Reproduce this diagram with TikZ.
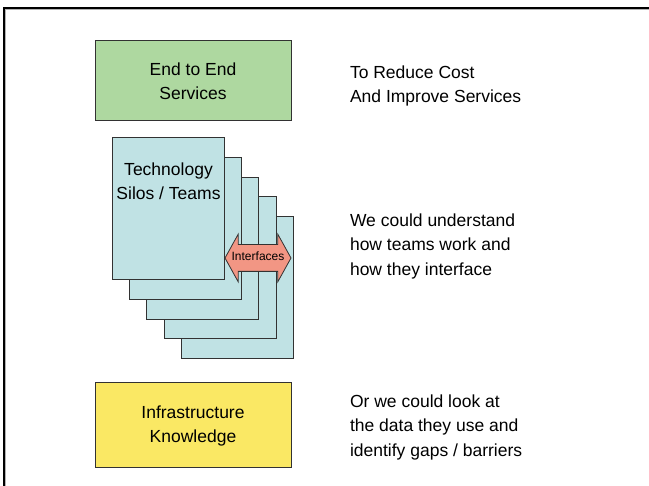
\documentclass[tikz,border=0pt]{standalone}
\usepackage{fontspec}
\setmainfont{Liberation Sans}
\usepackage{tikz}
\usetikzlibrary{positioning,shapes.arrows}

\definecolor{servgreen}{RGB}{174,216,160}
\definecolor{siloblue}{RGB}{192,226,228}
\definecolor{infoyellow}{RGB}{250,232,100}
\definecolor{ifsalmon}{RGB}{242,150,132}
\definecolor{edge}{RGB}{50,50,50}

\tikzset{
  box/.style={rectangle, draw=edge, line width=1pt, minimum width=196pt, align=center, font=\fontsize{17.5}{24}\selectfont},
  card/.style={rectangle, draw=edge, line width=1pt, fill=siloblue, minimum width=112pt, minimum height=142pt},
  note/.style={anchor=west, align=left, font=\fontsize{17.5}{24.5}\selectfont}
}

\begin{document}
\begin{tikzpicture}[x=1pt, y=-1pt]
\useasboundingbox (0,0) rectangle (649,486);
% outer frame
\draw [gray!60, line width=1pt] (5.5,487) -- (5.5,9.5) -- (650,9.5);
\draw [black, line width=1.2pt] (4,487) -- (4,8) -- (650,8);

\node [box, fill=servgreen, minimum height=80pt] (services) at (193,81) {End to End\\ Services};

% stack of silo cards, back to front
\foreach \i in {4,3,2,1,0}
  \node [card] (silo\i) at (168.5+17.2*\i, 209+19.6*\i) {};
\node [anchor=north, align=center, font=\fontsize{17.5}{24}\selectfont] (silotext) at ([yshift=-22pt]silo0.north) {Technology\\ Silos / Teams};

\node [double arrow, draw=edge, line width=0.8pt, fill=ifsalmon, minimum height=66pt, double arrow head extend=10.5pt, double arrow tip angle=122, inner xsep=-8pt, inner ysep=8pt, text height=8pt, text depth=2pt, font=\fontsize{12}{13}\selectfont] (interfaces) at (258,258) {Interfaces};

\node [box, fill=infoyellow, minimum height=85pt] (infra) at (193,425.5) {Infrastructure\\ Knowledge};

\node [note] (cost) at (346.5,86) {To Reduce Cost\\ And Improve Services};
\node [note] (teams) at (346.5,246) {We could understand\\ how teams work and\\ how they interface};
\node [note] (data) at (346.5,427) {Or we could look at\\ the data they use and\\ identify gaps / barriers};

\end{tikzpicture}
\end{document}
